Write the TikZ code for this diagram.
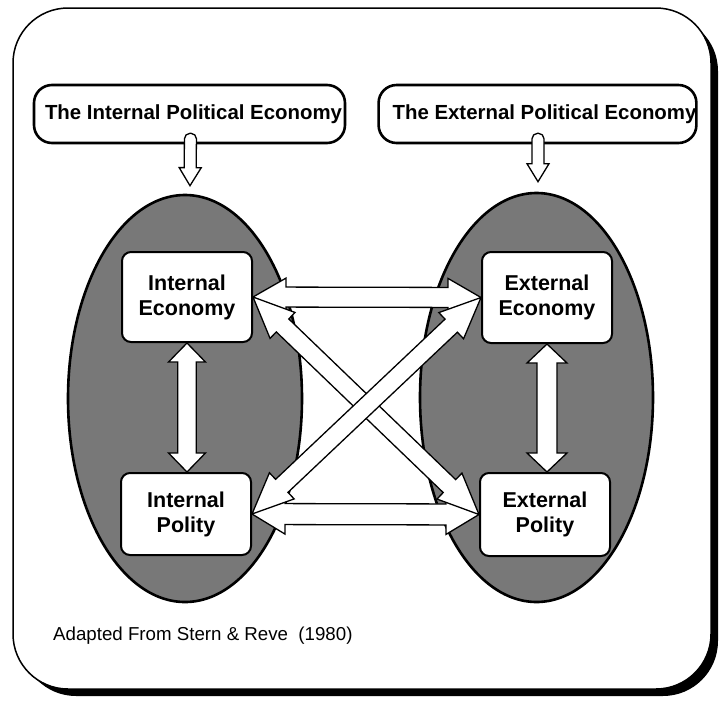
\documentclass[tikz,border=0pt]{standalone}
\usepackage{fontspec}
\setmainfont{Liberation Sans}
\usetikzlibrary{calc,shapes.geometric}
\definecolor{ellgray}{gray}{0.47}
\tikzset{
  frameline/.style={line width=1.5pt, draw=black, fill=white, rounded corners=55pt},
  ellnode/.style={ellipse, draw=black, line width=2.6pt, fill=ellgray, inner sep=0pt},
  topbox/.style={draw=black, line width=2.6pt, fill=white, rounded corners=18pt, inner sep=0pt,
    minimum width=311pt, minimum height=58pt, font=\fontsize{20.4}{24}\selectfont\bfseries},
  innerbox/.style={draw=black, line width=2pt, fill=white, rounded corners=9pt, inner sep=0pt,
    minimum width=130pt, align=center, font=\fontsize{21.5}{25}\selectfont\bfseries},
  blockarr/.style={draw=black, line width=1.3pt, fill=white, line join=miter},
  captext/.style={font=\fontsize{18.7}{22}\selectfont, inner sep=0pt}
}
\newcommand{\blockdbl}[5]{%
  \draw[blockarr] (#1) -- ($(#1)!#5!(#2)!#4!90:(#2)$) -- ($(#1)!#5!(#2)!#3!90:(#2)$)
    -- ($(#2)!#5!(#1)!#3!-90:(#1)$) -- ($(#2)!#5!(#1)!#4!-90:(#1)$) -- (#2)
    -- ($(#2)!#5!(#1)!#4!90:(#1)$) -- ($(#2)!#5!(#1)!#3!90:(#1)$)
    -- ($(#1)!#5!(#2)!#3!-90:(#2)$) -- ($(#1)!#5!(#2)!#4!-90:(#2)$) -- cycle;}
\newcommand{\blocksgl}[5]{%
  \draw[blockarr] ($(#1)!.5!(#2)!#3!90:(#2)$) [rounded corners=5.5pt] -- ($(#1)!#3!90:(#2)$)
    -- ($(#1)!#3!-90:(#2)$) [sharp corners] -- ($(#2)!#5!(#1)!#3!90:(#1)$)
    -- ($(#2)!#5!(#1)!#4!90:(#1)$) -- (#2) -- ($(#2)!#5!(#1)!#4!-90:(#1)$)
    -- ($(#2)!#5!(#1)!#3!-90:(#1)$) -- cycle;}
\begin{document}
\begin{tikzpicture}[x=1pt,y=-1pt]
\useasboundingbox (0,0) rectangle (720,702);
% frame with shadow
\fill[black, rounded corners=55pt] (21,16) rectangle (718,696);
\draw[frameline] (13,8) rectangle (711,689);
% ellipses
\node[ellnode, minimum width=234pt, minimum height=407pt] (le) at (185,398.5) {};
\node[ellnode, minimum width=233pt, minimum height=409pt] (re) at (536.5,397.5) {};
% top boxes
\node[topbox] (tip) at (189.5,114) {\hspace*{8pt}The Internal Political Economy};
\node[topbox] (tep) at (537.5,114) {\hspace*{14pt}The External Political Economy};
% inner boxes
\node[innerbox, minimum height=90pt] (ie) at (187,297) {Internal\\Economy};
\node[innerbox, minimum height=82pt] (ip) at (186,514) {Internal\\Polity};
\node[innerbox, minimum height=91pt] (ee) at (547,297.5) {External\\Economy};
\node[innerbox, minimum height=83pt] (ep) at (545,514.5) {External\\Polity};
% caption
\node[captext, anchor=base west] (cap) at (53,640) {Adapted From Stern \& Reve\ \ (1980)};
% single arrows from the top boxes
\coordinate (s1a) at ($(tip.south)+(1,-11)$);
\coordinate (s1b) at ($(le.north)+(5,-8)$);
\coordinate (s2a) at ($(tep.south)+(0.5,-11)$);
\coordinate (s2b) at ($(re.north)+(1.5,-10)$);
\blocksgl{s1a}{s1b}{6pt}{11pt}{18pt}
\blocksgl{s2a}{s2b}{6pt}{11pt}{18pt}
% vertical double arrows
\coordinate (v1b) at (ie.south |- ip.north);
\coordinate (v2b) at (ee.south |- ep.north);
\blockdbl{ie.south}{v1b}{9.2pt}{18.5pt}{19pt}
\blockdbl{ee.south}{v2b}{10pt}{20pt}{19pt}
% horizontal double arrows
\blockdbl{ie.east}{ee.west}{10pt}{19pt}{33pt}
\blockdbl{ip.east}{ep.west}{10.5pt}{20pt}{33pt}
% diagonal double arrows
\blockdbl{ie.east}{ep.west}{9pt}{18pt}{41pt}
\blockdbl{ip.east}{ee.west}{9pt}{18pt}{41pt}
\end{tikzpicture}
\end{document}
